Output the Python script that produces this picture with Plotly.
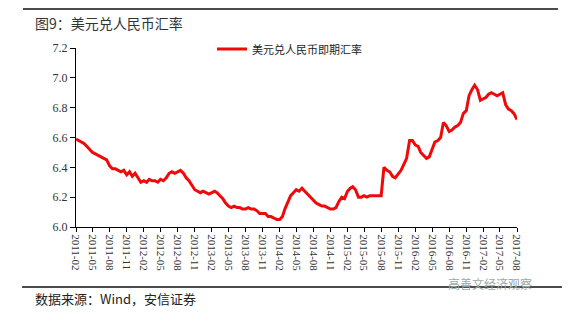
import pandas as pd
import plotly.graph_objects as go

dates = pd.date_range("2011-02-01", "2017-08-01", freq="SMS-16")
rate_values = [
    # 2011 Feb-Dec
    6.59, 6.58, 6.57, 6.56, 6.54, 6.52, 6.50, 6.49, 6.48, 6.47, 6.46, 6.45,
    6.41, 6.39, 6.39, 6.38, 6.37, 6.38, 6.35, 6.37, 6.34, 6.36,
    # 2012
    6.33, 6.30, 6.31, 6.30, 6.32, 6.31, 6.31, 6.30, 6.32, 6.31, 6.33, 6.36,
    6.37, 6.36, 6.37, 6.38, 6.36, 6.33, 6.31, 6.28, 6.25, 6.24, 6.23, 6.24,
    # 2013
    6.23, 6.22, 6.23, 6.24, 6.23, 6.21, 6.19, 6.16, 6.14, 6.13, 6.14, 6.13,
    6.13, 6.12, 6.12, 6.13, 6.12, 6.12, 6.11, 6.09, 6.09, 6.09, 6.07, 6.07,
    # 2014
    6.06, 6.05, 6.05, 6.07, 6.12, 6.16, 6.21, 6.23, 6.25, 6.24, 6.26, 6.24,
    6.22, 6.20, 6.18, 6.16, 6.15, 6.14, 6.14, 6.13, 6.12, 6.12, 6.13, 6.17,
    # 2015
    6.20, 6.19, 6.24, 6.26, 6.27, 6.25, 6.20, 6.20, 6.21, 6.20, 6.21, 6.21,
    6.21, 6.21, 6.21, 6.40, 6.38, 6.37, 6.34, 6.33, 6.36, 6.38, 6.42, 6.46,
    # 2016
    6.58, 6.58, 6.55, 6.54, 6.50, 6.48, 6.46, 6.47, 6.52, 6.57, 6.58, 6.60,
    6.70, 6.68, 6.64, 6.65, 6.67, 6.68, 6.70, 6.76, 6.78, 6.88, 6.92, 6.95,
    # 2017 Jan-Aug
    6.92, 6.85, 6.86, 6.87, 6.89, 6.90, 6.89, 6.88, 6.89, 6.90, 6.82, 6.79,
    6.78, 6.76, 6.72,
]
dates = list(dates[:len(rate_values)])

y_ticks = [6.0, 6.2, 6.4, 6.6, 6.8, 7.0, 7.2]
series_name = "美元兑人民币即期汇率"
title_text = "图9：美元兑人民币汇率"
source_text = "数据来源：Wind，安信证券"
watermark_text = "高善文经济观察"
line_color = "#ee0a0a"

fig = go.Figure()
fig.add_trace(go.Scatter(
    x=dates, y=rate_values, mode="lines", name=series_name,
    line=dict(color=line_color, width=3), showlegend=False,
))

serif = "Liberation Serif, Times New Roman, serif"
cjk = "Noto Sans CJK SC, sans-serif"

PLOT_W, PLOT_H, L, T = 441, 179, 76, 48


def px_x(x):
    return (x - L) / PLOT_W


def px_y(y):
    return (T + PLOT_H - y) / PLOT_H


fig.update_layout(
    width=587, height=322,
    margin=dict(l=76, r=70, t=48, b=95),
    paper_bgcolor="white", plot_bgcolor="white",
    showlegend=False,
    xaxis=dict(
        type="date", range=["2011-02-01", "2017-08-01"],
        tick0="2011-02-01", dtick="M3", tickformat="%Y-%m",
        tickangle=90, ticks="outside", ticklen=4, tickcolor="#000",
        showline=True, linecolor="#000", linewidth=1,
        showgrid=False, zeroline=False,
        tickfont=dict(family=serif, size=11, color="#333"),
    ),
    yaxis=dict(
        range=[6.0, 7.2], tickvals=y_ticks, tickformat=".1f",
        ticks="outside", ticklen=5, tickcolor="#000",
        showline=True, linecolor="#000", linewidth=1,
        showgrid=False, zeroline=False,
        tickfont=dict(family=serif, size=12, color="#333"),
    ),
    shapes=[
        dict(type="line", xref="paper", yref="paper",
             x0=px_x(23), x1=px_x(558), y0=px_y(9), y1=px_y(9),
             line=dict(color="#111", width=1.5)),
        dict(type="line", xref="paper", yref="paper",
             x0=px_x(22), x1=px_x(562), y0=px_y(287), y1=px_y(287),
             line=dict(color="#111", width=1.5)),
        # legend sample
        dict(type="line", xref="paper", yref="paper",
             x0=px_x(217), x1=px_x(247), y0=px_y(49), y1=px_y(49),
             line=dict(color=line_color, width=3)),
    ],
    annotations=[
        dict(text=series_name, xref="paper", yref="paper",
             x=px_x(250), y=px_y(49), xanchor="left", yanchor="middle",
             showarrow=False, font=dict(family=cjk, size=11, color="#222")),
        dict(text=title_text, xref="paper", yref="paper",
             x=px_x(33), y=px_y(23), xanchor="left", yanchor="middle",
             showarrow=False, font=dict(family=cjk, size=14, color="#333")),
        dict(text=source_text, xref="paper", yref="paper",
             x=px_x(33), y=px_y(298), xanchor="left", yanchor="middle",
             showarrow=False, font=dict(family=cjk, size=13, color="#222")),
        dict(text=watermark_text, xref="paper", yref="paper",
             x=px_x(490), y=px_y(283), xanchor="center", yanchor="middle",
             showarrow=False, font=dict(family=cjk, size=12, color="#9aa")),
    ],
)

fig.write_html("out.html")
